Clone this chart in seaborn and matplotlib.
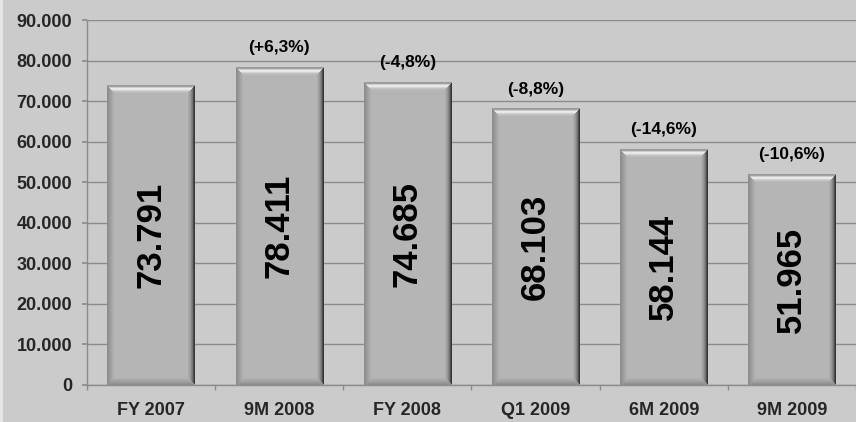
import matplotlib
matplotlib.use('Agg')
import matplotlib.pyplot as plt
import matplotlib.ticker as ticker
import numpy as np
import pandas as pd
import seaborn as sns

periods = ["FY 2007", "9M 2008", "FY 2008", "Q1 2009", "6M 2009", "9M 2009"]
values = [73791, 78411, 74685, 68103, 58144, 51965]
value_labels = ["73.791", "78.411", "74.685", "68.103", "58.144", "51.965"]
change_labels = ["", "(+6,3%)", "(-4,8%)", "(-8,8%)", "(-14,6%)", "(-10,6%)"]
y_ticks = [0, 10000, 20000, 30000, 40000, 50000, 60000, 70000, 80000, 90000]

sns.set_theme(style="white")
plt.rcParams['font.family'] = ['Liberation Sans', 'DejaVu Sans']


def bevel_image(hpx, wpx, b=7):
    """grey bar face with a bevelled edge, values 0..1"""
    r = np.arange(hpx)[:, None] * np.ones((1, wpx))
    c = np.ones((hpx, 1)) * np.arange(wpx)[None, :]
    dt, db, dl, dr = r, hpx - 1 - r, c, wpx - 1 - c
    d = np.stack([dt, db, dl, dr])
    side = d.argmin(axis=0)
    dm = d.min(axis=0)
    img = np.full((hpx, wpx), 0.71)
    t = np.clip(dm / b, 0, 1)
    top = np.interp(dm, [0, 1.5, 2.5, 4, 6, 8], [0.60, 0.66, 0.93, 0.90, 0.76, 0.71])
    bottom = 0.56 + 0.15 * t
    left = 0.55 + 0.16 * t
    right = np.interp(dm, [0, 1, 2, 4, 7], [0.22, 0.30, 0.45, 0.60, 0.71])
    m = dm < b + 1
    img = np.where(m & (side == 0), top, img)
    img = np.where(m & (side == 1), bottom, img)
    img = np.where(m & (side == 2), left, img)
    img = np.where(m & (side == 3), right, img)
    return img


bg = "#cbcbcb"
fig = plt.figure(figsize=(8.56, 4.22), dpi=100, facecolor=bg)
# thin lighter strip at the left edge
fig.patches.append(plt.Rectangle((0, 0), 0.004, 1, transform=fig.transFigure,
                                 facecolor="#e6e6e6", edgecolor="none"))
ax = fig.add_axes([0.1016, 0.0877, 0.8984, 0.8649])
ax.set_facecolor(bg)

df = pd.DataFrame({"period": periods, "value": values})
sns.barplot(data=df, x="period", y="value", color="#b5b5b5", width=0.68,
            edgecolor="none", ax=ax, zorder=2)

ax.set_xlim(-0.5, len(periods) - 0.5)
ax.set_ylim(0, 90000)

px_per_y = 365 / 90000
px_per_x = 769 / len(periods)
for p in ax.patches:
    x0, w, h = p.get_x(), p.get_width(), p.get_height()
    img = bevel_image(int(round(h * px_per_y)), int(round(w * px_per_x)))
    ax.imshow(img, cmap="gray", vmin=0, vmax=1, aspect="auto",
              extent=(x0, x0 + w, 0, h), zorder=3, interpolation="nearest")

for i, (v, lab, ch) in enumerate(zip(values, value_labels, change_labels)):
    ax.text(i, v / 2, lab, rotation=90, ha="center", va="center", fontsize=25,
            fontweight="bold", color="black", zorder=5)
    if ch:
        ax.annotate(ch, (i, v), xytext=(0, 14), textcoords="offset points",
                    ha="center", va="center", fontsize=12.5, fontweight="bold",
                    color="black", zorder=5)

ax.set_xlim(-0.5, len(periods) - 0.5)
ax.set_ylim(0, 90000)
ax.set_yticks(y_ticks)
ax.yaxis.set_major_formatter(ticker.FuncFormatter(
    lambda v, _: f"{int(v):,}".replace(",", ".")))
ax.grid(axis="y", color="#8c8c8c", linewidth=1.0, zorder=0)
ax.set_axisbelow(True)
ax.set_xlabel("")
ax.set_ylabel("")

for s in ["top", "right"]:
    ax.spines[s].set_visible(False)
for s in ["left", "bottom"]:
    ax.spines[s].set_color("#8c8c8c")
    ax.spines[s].set_linewidth(1.0)

ax.tick_params(axis="y", left=True, length=3.6, color="#8c8c8c", labelsize=13,
               pad=7)
ax.tick_params(axis="x", bottom=False, labelsize=13, pad=6)
ax.set_xticks(np.arange(-0.5, len(periods), 1.0), minor=True)
ax.tick_params(axis="x", which="minor", bottom=True, length=3.6, color="#8c8c8c")
for t in ax.get_xticklabels() + ax.get_yticklabels():
    t.set_fontweight("bold")

fig.savefig("out.png", dpi=100, facecolor=bg)
